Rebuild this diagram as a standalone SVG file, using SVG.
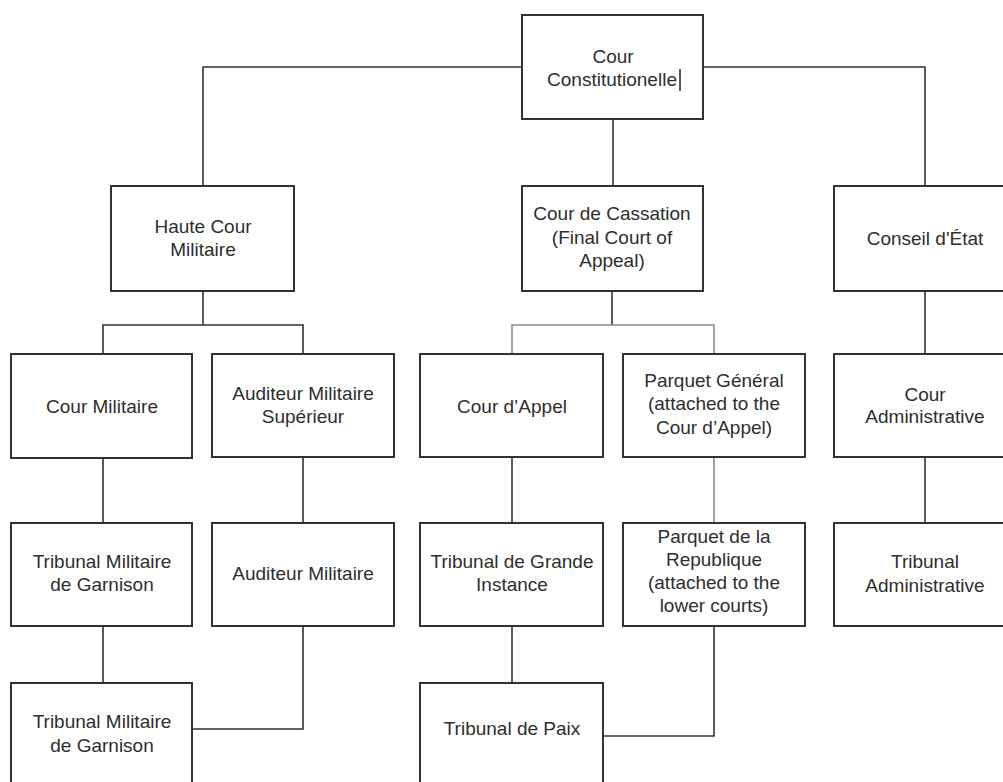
<svg xmlns="http://www.w3.org/2000/svg" width="1003" height="782" viewBox="0 0 1003 782">
<style>
.box{fill:#fff;stroke:#333;stroke-width:2}
.t{font-family:"Liberation Sans",Arial,sans-serif;font-size:19px;fill:#2e2e2e;text-anchor:middle}
.c{fill:none;stroke:#333;stroke-width:1.6}
.g{fill:none;stroke:#8a8a8a;stroke-width:1.6}
</style>
<rect width="1003" height="782" fill="#fff"/>
<g id="connectors">
<path class="c" d="M522,67H203V186M703,67H925V186M613,119V186"/>
<path class="c" d="M203,291V325M103,354V325H303V354"/>
<path class="c" d="M103,458V523M103,626V683M303,457V523M303,626V729H192"/>
<path class="c" d="M612,291V325"/>
<path class="g" d="M512,354V325H714V354M714,457V523"/>
<path class="c" d="M512,457V523M512,626V683M714,626V736H603"/>
<path class="c" d="M925,291V354M925,457V523"/>
</g>
<g id="cour-constitutionelle"><rect class="box" x="522" y="15" width="181" height="104"/><text class="t" x="613" y="63">Cour</text><text class="t" x="612" y="86">Constitutionelle</text><line x1="680" y1="69" x2="680" y2="91" stroke="#222" stroke-width="1.5"/></g>
<g id="haute-cour-militaire"><rect class="box" x="111" y="186" width="183" height="105"/><text class="t" x="203" y="233">Haute Cour</text><text class="t" x="203" y="256">Militaire</text></g>
<g id="cour-de-cassation"><rect class="box" x="522" y="186" width="181" height="105"/><text class="t" x="612" y="220">Cour de Cassation</text><text class="t" x="612" y="244">(Final Court of</text><text class="t" x="612" y="267">Appeal)</text></g>
<g id="conseil-etat"><rect class="box" x="834" y="186" width="182" height="105"/><text class="t" x="925" y="245">Conseil d'État</text></g>
<g id="cour-militaire"><rect class="box" x="11" y="354" width="181" height="104"/><text class="t" x="102" y="413">Cour Militaire</text></g>
<g id="auditeur-militaire-superieur"><rect class="box" x="212" y="354" width="182" height="103"/><text class="t" x="303" y="400">Auditeur Militaire</text><text class="t" x="303" y="423">Supérieur</text></g>
<g id="cour-appel"><rect class="box" x="420" y="354" width="183" height="103"/><text class="t" x="512" y="413">Cour d’Appel</text></g>
<g id="parquet-general"><rect class="box" x="623" y="354" width="182" height="103"/><text class="t" x="714" y="387">Parquet Général</text><text class="t" x="714" y="410">(attached to the</text><text class="t" x="714" y="434">Cour d’Appel)</text></g>
<g id="cour-administrative"><rect class="box" x="834" y="354" width="182" height="103"/><text class="t" x="925" y="401">Cour</text><text class="t" x="925" y="423">Administrative</text></g>
<g id="tribunal-militaire-garnison-1"><rect class="box" x="11" y="523" width="181" height="103"/><text class="t" x="102" y="568">Tribunal Militaire</text><text class="t" x="102" y="591">de Garnison</text></g>
<g id="auditeur-militaire"><rect class="box" x="212" y="523" width="182" height="103"/><text class="t" x="303" y="580">Auditeur Militaire</text></g>
<g id="tribunal-grande-instance"><rect class="box" x="420" y="523" width="183" height="103"/><text class="t" x="512" y="568">Tribunal de Grande</text><text class="t" x="512" y="591">Instance</text></g>
<g id="parquet-republique"><rect class="box" x="623" y="523" width="182" height="103"/><text class="t" x="714" y="543">Parquet de la</text><text class="t" x="714" y="566">Republique</text><text class="t" x="714" y="589">(attached to the</text><text class="t" x="714" y="612">lower courts)</text></g>
<g id="tribunal-administrative"><rect class="box" x="834" y="523" width="182" height="103"/><text class="t" x="925" y="568">Tribunal</text><text class="t" x="925" y="592">Administrative</text></g>
<g id="tribunal-militaire-garnison-2"><rect class="box" x="11" y="683" width="181" height="120"/><text class="t" x="102" y="728">Tribunal Militaire</text><text class="t" x="102" y="752">de Garnison</text></g>
<g id="tribunal-paix"><rect class="box" x="420" y="683" width="183" height="120"/><text class="t" x="512" y="735">Tribunal de Paix</text></g>
</svg>
